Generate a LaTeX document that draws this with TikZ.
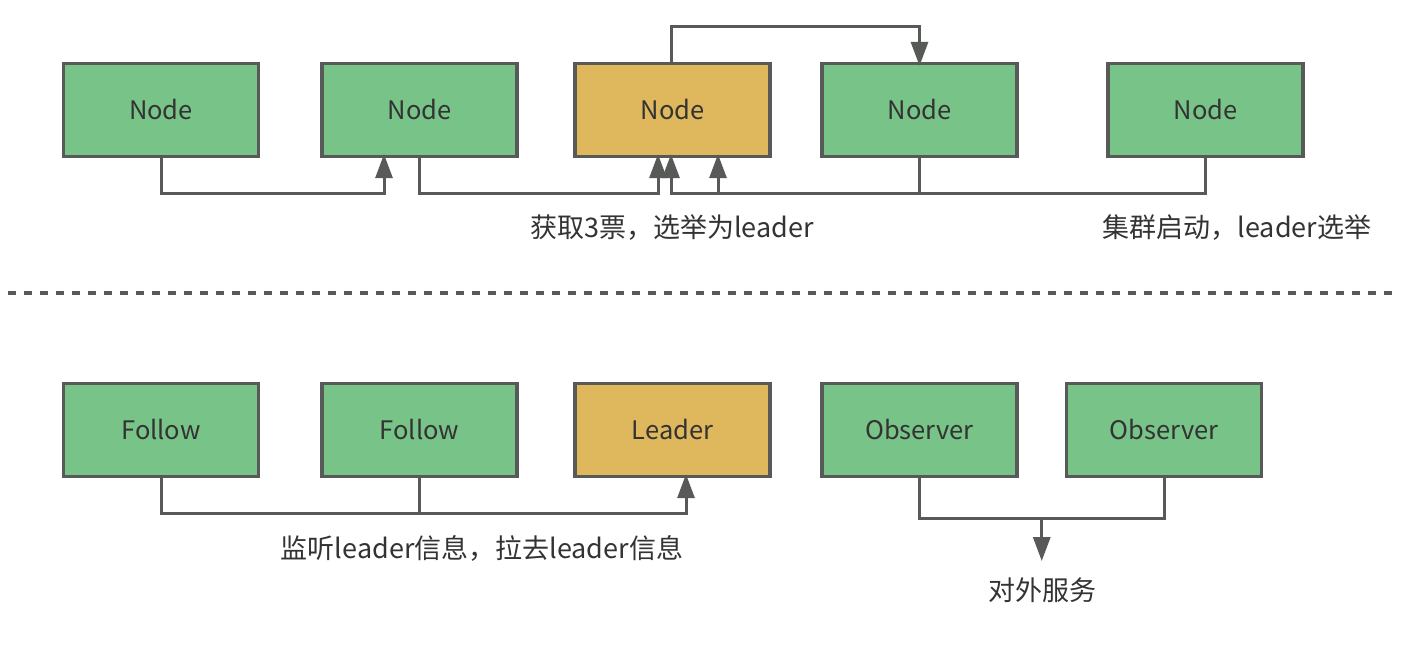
\documentclass[tikz,border=0pt]{standalone}
\usepackage{fontspec}
\setmainfont{Noto Sans CJK SC}
\usetikzlibrary{arrows.meta}
\definecolor{boxgreen}{HTML}{78C387}
\definecolor{boxgold}{HTML}{DFB75D}
\definecolor{edgegray}{HTML}{585A58}
\definecolor{txtgray}{HTML}{333333}
\begin{document}
\begin{tikzpicture}[x=1pt,y=-1pt,
  box/.style={draw=edgegray,line width=3.3pt,minimum width=195pt,minimum height=93pt,
    inner sep=0pt,text=txtgray,font=\fontsize{25.5}{30}\selectfont},
  member/.style={box,fill=boxgreen},
  chief/.style={box,fill=boxgold},
  conn/.style={draw=edgegray,line width=3pt},
  arr/.style={conn,-{Triangle[length=24pt,width=17pt]},shorten >=-4pt},
  note/.style={text=txtgray,font=\fontsize{27}{32}\selectfont}]

\useasboundingbox (0,0) rectangle (1406,649);

\node[member] (n1) at (161,110) {Node};
\node[member] (n2) at (419.5,110) {Node};
\node[chief]  (n3) at (672.5,110) {Node};
\node[member] (n4) at (919.5,110) {Node};
\node[member] (n5) at (1205.5,110) {Node};

\draw[arr] (n1.south) -- ++(0,35.5) -| ([xshift=-35.5]n2.south);
\draw[arr] (n2.south) -- ++(0,35.5) -| ([xshift=-14.5]n3.south);
\draw[arr] (n5.south) -- ++(0,35.5) -| ([xshift=-1.5]n3.south);
\draw[arr] (n4.south) -- ++(0,35.5) -| ([xshift=45.5]n3.south);
\draw[arr] ([xshift=-1.5]n3.north) -- ++(0,-35.5) -| (n4.north);

\node[note] (vote) at (672,228) {获取3票，选举为leader};
\node[note] (boot) at (1237,228) {集群启动，leader选举};

\draw[edgegray,line width=4pt,dash pattern=on 8pt off 8pt] (8,293) -- (1398,293);

\node[member] (f1) at (161,430) {Follow};
\node[member] (f2) at (419.5,430) {Follow};
\node[chief]  (ld) at (672.5,430) {Leader};
\node[member] (o1) at (919.5,430) {Observer};
\node[member] (o2) at (1164,430) {Observer};

\draw[arr] (f1.south) -- ++(0,35.5) -| ([xshift=13.5]ld.south);
\draw[conn] (f2.south) -- ++(0,35.5);

\coordinate (obsj) at (1041.75,518);
\coordinate (svc) at (1041.75,557);
\draw[conn] (o1.south) |- (obsj) -| (o2.south);
\draw[arr] (obsj) -- (svc);

\node[note] (sync) at (482,548) {监听leader信息，拉去leader信息};
\node[note] (serve) at (1042,590) {对外服务};
\end{tikzpicture}
\end{document}
